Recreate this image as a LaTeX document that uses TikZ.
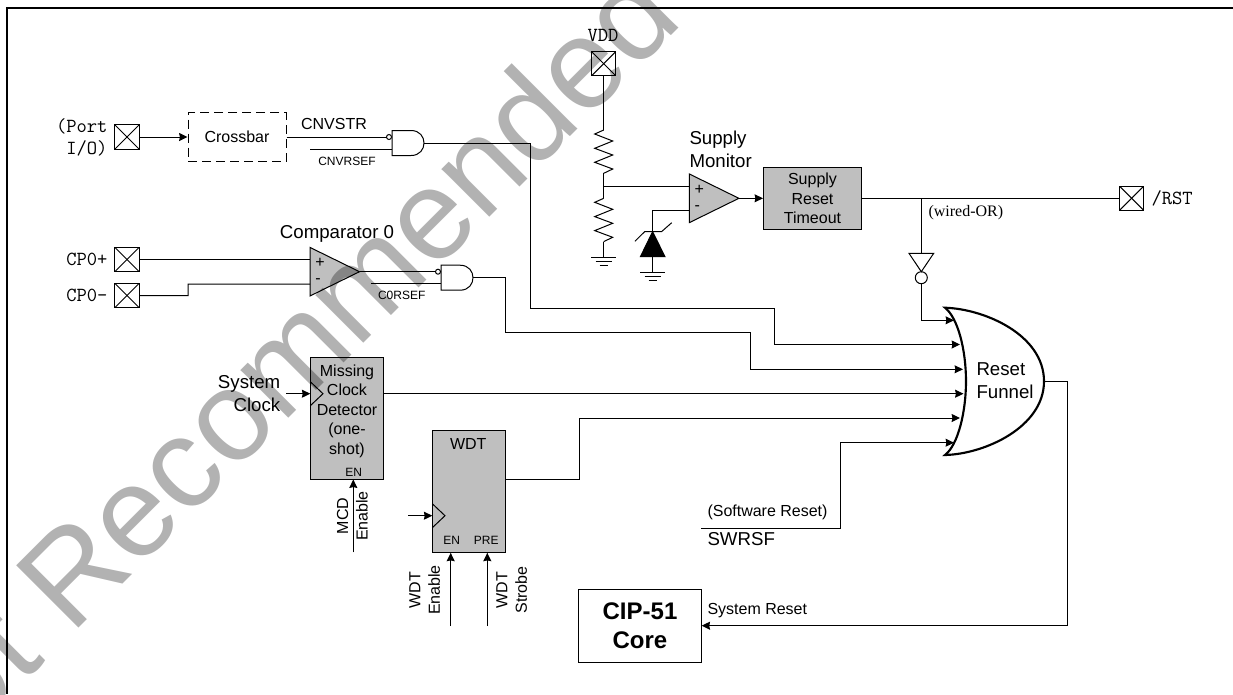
\documentclass[tikz,border=0pt]{standalone}
\usepackage{fontspec}
\setmainfont{Liberation Sans}
\newfontfamily\wiredfont{Liberation Serif}
\usetikzlibrary{arrows.meta}

\begin{document}
\begin{tikzpicture}[x=.75pt,y=-.75pt,line width=.75pt]
\tikzset{
  txtS/.style={inner sep=0pt,align=center,font=\fontsize{9}{11}\selectfont},
  txtM/.style={inner sep=0pt,align=center,font=\fontsize{12}{14.6}\selectfont},
  txtL/.style={inner sep=0pt,align=left,font=\fontsize{14}{17}\selectfont},
  txtCore/.style={inner sep=0pt,align=center,font=\bfseries\fontsize{18}{22}\selectfont},
  txtPin/.style={inner sep=0pt,align=right,font=\ttfamily\fontsize{15}{16.3}\selectfont},
  grayblock/.style={draw,fill=black!25,inner sep=0pt},
  portbox/.style={draw,fill=white,inner sep=0pt,minimum size=18.4pt,path picture={
    \draw (path picture bounding box.north west) -- (path picture bounding box.south east);
    \draw (path picture bounding box.north east) -- (path picture bounding box.south west);}},
  wire/.style={-{Stealth[length=6.3pt,width=6pt,inset=.6pt]}},
  andgate/.pic={
    \draw[fill=white] (0,-12.5) -- (19,-12.5) .. controls (28,-12.5) and (32,-6) .. (32,0)
      .. controls (32,6) and (28,12.5) .. (19,12.5) -- (0,12.5) -- cycle;
    \draw[fill=white] (-3,-6) circle[radius=2.5];
    \coordinate (-in1) at (-5.5,-6);
    \coordinate (-in2) at (0,6);
    \coordinate (-out) at (32,0);
  },
  ampgate/.pic={
    \draw[fill=black!25] (0,-24.3) -- (49.5,0) -- (0,24.3) -- cycle;
    \node[txtM] at (10,-8.5) {+};
    \node[txtM] at (8,9.5) {-};
    \coordinate (-in1) at (0,-12.2);
    \coordinate (-in2) at (0,12.3);
    \coordinate (-out) at (49.5,0);
  },
  clkmark/.pic={
    \draw (0,-12) -- (12.7,0) -- (0,12);
    \coordinate (-in) at (0,0);
  },
  resistor/.pic={
    \draw (0,0) -- (-9,4) -- (9,11) -- (-9,18.3) -- (9,25) -- (-9,32.3) -- (9,39) -- (0,43.3);
    \coordinate (-top) at (0,0);
    \coordinate (-bot) at (0,43.3);
  },
  gndmark/.pic={
    \draw (-12.5,0) -- (12.5,0);
    \draw (-8,4.3) -- (8,4.3);
    \draw (-4,8.5) -- (4,8.5);
    \coordinate (-top) at (0,0);
  },
}

\useasboundingbox (0,0) rectangle (1233,694);
\clip (0,0) rectangle (1233,694);

%% Frame
\draw[line width=1.1pt] (1233,8) -- (7,8) -- (7,694);

%% Pins
\node[portbox] (portio) at (127,137) {};
\node[portbox] (cpplus) at (127,259.5) {};
\node[portbox] (cpminus) at (127,295.5) {};
\node[portbox] (vddpad) at (603.7,63.7) {};
\node[portbox] (rstpad) at (1131.6,198.3) {};
\node[txtPin,anchor=east] (portlbl) at (108,137.5) {(Port\\I/O)};
\node[txtPin,anchor=east] (cppluslbl) at (108,259.5) {CP0+};
\node[txtPin,anchor=east] (cpminuslbl) at (108,295) {CP0–};
\node[txtPin] (vddlbl) at (603,35) {VDD};
\node[txtPin,anchor=west] (rstlbl) at (1151,198.7) {/RST};

%% Blocks
\node[draw,dash pattern=on 6.75pt off 3.75pt,inner sep=0pt,minimum width=73.5pt,minimum height=36.75pt,font=\fontsize{12}{14.6}\selectfont] (crossbar) at (237,137) {Crossbar};
\node[grayblock,minimum width=73.5pt,minimum height=46.3pt,font=\fontsize{12}{14.6}\selectfont,align=center] (supbox) at (812.5,198.3) {Supply\\Reset\\Timeout};
\node[grayblock,minimum width=55pt,minimum height=91.5pt] (mcdbox) at (347,418) {};
\node[grayblock,minimum width=55pt,minimum height=91.5pt] (wdtbox) at (469,491.3) {};
\node[draw,minimum width=91.7pt,minimum height=54.75pt,txtCore,draw] (core) at (640,625.7) {CIP-51\\Core};

\node[txtM] (mcdlbl) at (347,411) {Missing\\Clock\\Detector\\(one-\\shot)};
\node[txtS] (mcden) at (353.7,472.3) {EN};
\node[txtM] (wdtlbl) at (468.3,444.3) {WDT};
\node[txtS] (wdten) at (451.7,540.3) {EN};
\node[txtS] (wdtpre) at (486.3,540.3) {PRE};
\pic (mcdclk) at (310.3,393.7) {clkmark};
\pic (wdtclk) at (432.3,515.7) {clkmark};

%% Gates
\pic (cnvgate) at (392,143) {andgate};
\pic (c0gate) at (441,277.7) {andgate};
\pic (c0amp) at (310,271.7) {ampgate};
\pic (supamp) at (689.4,198.3) {ampgate};
\draw[fill=white] (909,253.3) -- (933.7,253.3) -- (921.3,271.7) -- cycle;
\coordinate (invtop) at (921.3,253.3);
\node[draw,circle,inner sep=0pt,minimum size=9pt] (invbub) at (921.3,277.7) {};

%% Reset funnel
\draw[line width=1.6pt,line cap=round,fill=white] (945,307.7)
  .. controls (985,309) and (1044,335) .. (1044,381.3)
  .. controls (1044,427) and (985,454) .. (945,455)
  .. controls (958,445) and (966,412) .. (966,381.3)
  .. controls (966,350) and (958,318) .. (945,307.7) -- cycle;
\node[txtL,anchor=west] (funlbl) at (976,380.5) {Reset\\Funnel};
\coordinate (funA) at (954,320.3);
\coordinate (funB) at (960,344.5);
\coordinate (funC) at (963,369.3);
\coordinate (funD) at (963.5,393.7);
\coordinate (funE) at (960,418);
\coordinate (funF) at (954,442.7);
\coordinate (funout) at (1044,381.3);

%% Supply divider
\pic (rtop) at (603.7,130) {resistor};
\pic (rbot) at (603.7,198.3) {resistor};
\pic (gndA) at (603.7,257.3) {gndmark};
\pic (gndB) at (652.6,272.3) {gndmark};
\coordinate (tap) at (603.7,186.1);
\coordinate (zentop) at (652.6,231.7);
\coordinate (zenbot) at (652.6,256.7);
\draw[fill=black] (zentop) -- (665,256.7) -- (640.4,256.7) -- cycle;
\draw (634.9,241.3) -- (644.6,231.7) -- (661.5,231.7) -- (671.7,222.7);

%% Wires
\draw[wire] (portio.east) -- (crossbar.west);
\draw (crossbar.east) -- (cnvgate-in1);
\coordinate (cnvstart) at (310,149);
\draw (cnvstart) -- (cnvgate-in2);
\draw (cpplus.east) -- (c0amp-in1);
\coordinate (cpbend) at (188,284);
\draw (cpminus.east) -| (cpbend) -- (c0amp-in2);
\draw (c0amp-out) -- (c0gate-in1);
\coordinate (c0start) at (371,283.7);
\draw (c0start) -- (c0gate-in2);

\coordinate (bendA) at (530,308);
\coordinate (bendB) at (774,344.5);
\draw[wire] (cnvgate-out) -| (bendA) -| (bendB) -- (funB);
\coordinate (bendC) at (505.7,332.7);
\coordinate (bendD) at (750.3,369.3);
\draw[wire] (c0gate-out) -| (bendC) -| (bendD) -- (funC);

\draw (vddpad.south) -- (rtop-top);
\draw (rtop-bot) -- (rbot-top);
\draw (rbot-bot) -- (gndA-top);
\draw (tap) -- (supamp-in1);
\draw (supamp-in2) -| (zentop);
\draw (zenbot) -- (gndB-top);
\draw[wire] (supamp-out) -- (supbox.west);
\draw (supbox.east) -- (rstpad.west);
\coordinate (wiredor) at (921.3,198.3);
\draw (wiredor) -- (invtop);
\draw[wire] (invbub.south) |- (funA);

\coordinate (sysclk) at (286,393.7);
\draw[wire] (sysclk) -- (mcdclk-in);
\coordinate (mcdout) at (383.7,393.7);
\draw[wire] (mcdout) -- (funD);
\coordinate (wdtstart) at (408.3,515.7);
\draw[wire] (wdtstart) -- (wdtclk-in);
\coordinate (wdtout) at (505.7,479);
\coordinate (bendE) at (579,418);
\draw[wire] (wdtout) -| (bendE) -- (funE);
\coordinate (swstart) at (701,528);
\coordinate (bendF) at (840.3,442.7);
\draw[wire] (swstart) -| (bendF) -- (funF);
\coordinate (bendG) at (1067.7,625.7);
\draw[wire] (funout) -| (bendG) -- (core.east);

\coordinate (mcdenA) at (353.3,552.3);
\coordinate (mcdenB) at (353.3,479.5);
\draw[wire] (mcdenA) -- (mcdenB);
\coordinate (wdtenA) at (450.7,626);
\coordinate (wdtenB) at (450.7,552.8);
\draw[wire] (wdtenA) -- (wdtenB);
\coordinate (wdtstA) at (487.3,626);
\coordinate (wdtstB) at (487.3,552.8);
\draw[wire] (wdtstA) -- (wdtstB);

%% Labels
\node[txtM,anchor=south] (cnvstrlbl) at (334,130) {CNVSTR};
\node[txtS] (cnvrlbl) at (347,161.7) {CNVRSEF};
\node[txtL,align=center] (c0title) at (337,234) {Comparator 0};
\node[txtS] (c0lbl) at (401.7,295.7) {C0RSEF};
\node[txtL,anchor=west] (montitle) at (689,149.3) {Supply\\Monitor};
\node[inner sep=0pt,anchor=west,font=\wiredfont\fontsize{12}{14}\selectfont] (wiredlbl) at (928,212.3) {(wired-OR)};
\node[txtL,align=right,anchor=east] (clklbl) at (280.7,393.3) {System\\Clock};
\node[txtM,rotate=90] (mcdenlbl) at (352.3,516) {MCD\\Enable};
\node[txtM,rotate=90] (wdtenlbl) at (424.7,590) {WDT\\Enable};
\node[txtM,rotate=90] (wdtstlbl) at (511.7,590) {WDT\\Strobe};
\node[txtM,anchor=west] (softlbl) at (707,512.3) {(Software Reset)};
\node[txtL,anchor=west] (swrlbl) at (707,539.3) {SWRSF};
\node[txtM,anchor=west] (sysrlbl) at (707,610.7) {System Reset};

%% Stamp
\node[inner sep=0pt,anchor=base west,rotate=45,text=black,text opacity=.3,font=\fontsize{96}{96}\selectfont] (stamp) at (-95,802) {Not Recommended};
\end{tikzpicture}
\end{document}
